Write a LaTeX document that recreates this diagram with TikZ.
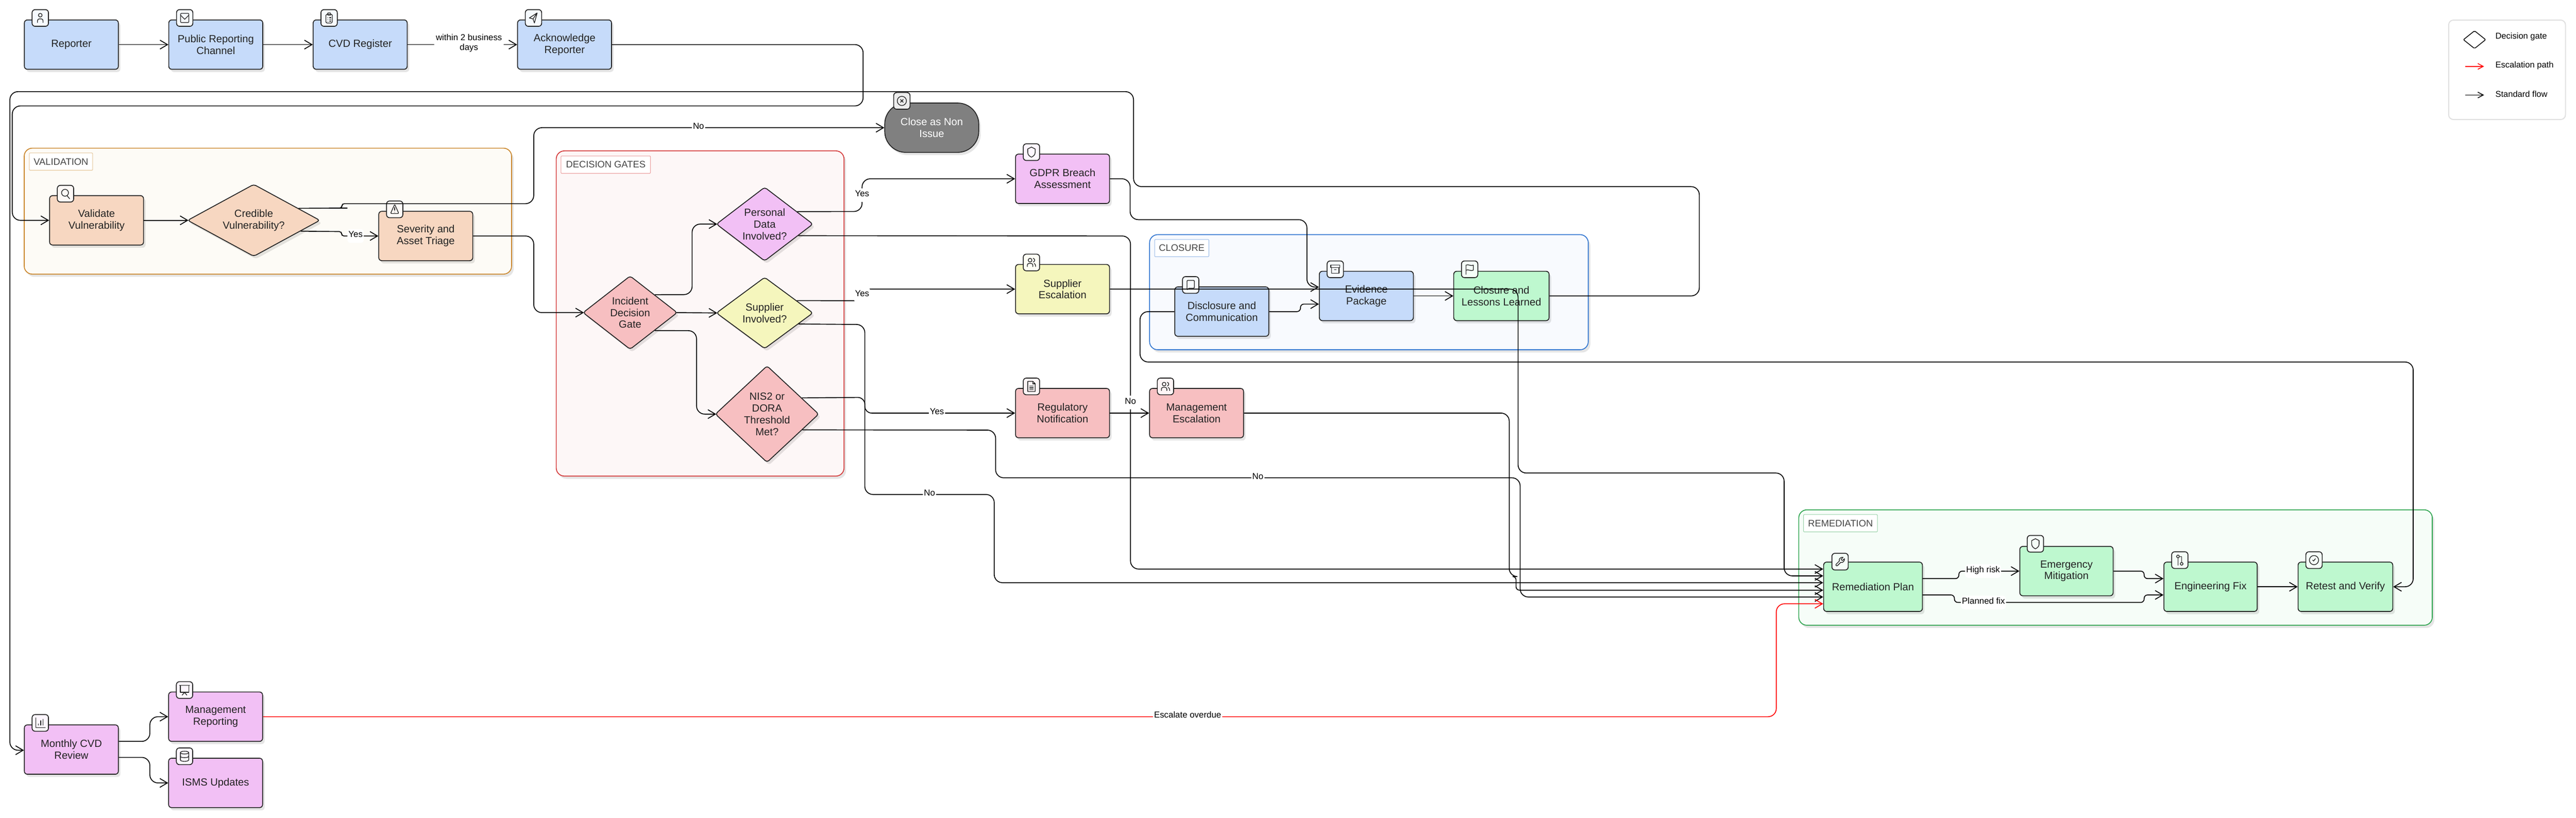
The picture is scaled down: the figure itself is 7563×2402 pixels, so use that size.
\documentclass[tikz,border=0pt]{standalone}
\usepackage{fontspec}
\usepackage{xcolor}
\usepackage{tikz}
\setmainfont{Liberation Sans}
\usetikzlibrary{shapes,arrows.meta,positioning,shadows}
\definecolor{bluefill}{RGB}{198,219,250}
\definecolor{peachfill}{RGB}{247,215,193}
\definecolor{rosefill}{RGB}{247,191,193}
\definecolor{pinkfill}{RGB}{242,192,245}
\definecolor{yellowfill}{RGB}{245,246,189}
\definecolor{greenfill}{RGB}{190,248,207}
\definecolor{closefill}{RGB}{128,128,128}
\definecolor{inkdark}{RGB}{34,34,34}
\definecolor{labelgray}{RGB}{68,68,68}
\definecolor{legendgray}{RGB}{224,224,224}
\definecolor{escalred}{RGB}{255,0,0}
\definecolor{validedge}{RGB}{202,134,43}
\definecolor{validback}{RGB}{253,251,246}
\definecolor{gateedge}{RGB}{212,58,58}
\definecolor{gateback}{RGB}{253,247,247}
\definecolor{closeedge}{RGB}{47,116,208}
\definecolor{closeback}{RGB}{248,250,254}
\definecolor{remedge}{RGB}{45,164,78}
\definecolor{remback}{RGB}{246,253,248}
\tikzset{
        softshadow/.style={
            drop shadow={shadow xshift=6pt, shadow yshift=-8pt, fill=black, opacity=.1}
        },
        block/.style={
            rectangle, draw=inkdark, line width=2.5pt,
            rounded corners=9pt, minimum width=276pt, minimum height=145pt,
            inner sep=0pt, align=center, text=inkdark, softshadow,
            font=\fontsize{30.5}{34.5}\selectfont
        },
        gate/.style={
            diamond, draw=inkdark, line width=2.5pt, aspect=1.3,
            rounded corners=7pt, inner sep=0pt, align=center, text=inkdark, softshadow,
            font=\fontsize{30.5}{34.5}\selectfont
        },
        zone/.style={
            rectangle, line width=2.5pt, rounded corners=24pt, softshadow
        },
        zonelabel/.style={
            rectangle, fill=white, line width=1.5pt, rounded corners=2pt,
            minimum height=51pt, inner sep=0pt, text=labelgray,
            font=\fontsize{27.7}{32}\selectfont
        },
        badge/.style={
            rectangle, draw=inkdark, line width=2.5pt, rounded corners=9pt,
            minimum width=48pt, minimum height=49pt, inner sep=0pt, fill=#1!15!white
        },
        flow/.style={
            ->, line width=2.5pt, rounded corners=24pt
        },
        escalate/.style={
            flow, draw=escalred, color=escalred
        },
        edgelabel/.style={
            fill=white, text=black, inner xsep=3pt, inner ysep=0pt,
            text height=24pt, text depth=16pt,
            font=\fontsize{25.5}{29}\selectfont
        },
        edgenote/.style={
            fill=white, text=black, inner xsep=5pt, inner ysep=2pt, align=center,
            yshift=5pt, font=\fontsize{25.5}{29}\selectfont
        },
        legendtext/.style={
            anchor=west, inner sep=0pt, text=black,
            font=\fontsize{25}{29}\selectfont
        },
        iconline/.style={
            draw=inkdark, line width=2pt, line cap=round, line join=round
        },
        iconperson/.pic={
            \path[iconline] (0,-6) circle (4);
            \path[iconline, rounded corners=5pt] (-6,10) -- (-6,2) -- (6,2) -- (6,10);
        },
        iconmail/.pic={
            \path[iconline, rounded corners=2pt] (-9,-10) rectangle (9,10);
            \path[iconline] (-9,-6) -- (0,3) -- (9,-6);
        },
        iconclipboard/.pic={
            \path[iconline, rounded corners=3pt] (-7,-8) rectangle (7,11);
            \path[iconline, rounded corners=1pt] (-3,-11) rectangle (3,-6);
            \path[iconline] (-3,-1) -- (-3,-1) (1,-1) -- (4,-1) (-3,3) -- (-3,3) (1,3) -- (4,3) (-3,7) -- (-3,7) (1,7) -- (4,7);
        },
        iconsend/.pic={
            \path[iconline] (8,-11) -- (-9,0) -- (-1,2) -- (2,11) -- cycle (8,-11) -- (-1,2);
        },
        iconsearch/.pic={
            \path[iconline] (-1,-2) circle (7.5);
            \path[iconline] (4,5) -- (9,11);
        },
        iconalert/.pic={
            \path[iconline, rounded corners=3pt] (0,-11) -- (9,9) -- (-9,9) -- cycle;
            \path[iconline] (0,-4) -- (0,2) (0,6) -- (0,6);
        },
        iconcross/.pic={
            \path[iconline] (0,0) circle (10);
            \path[iconline] (-3,-3) -- (3,3) (-3,3) -- (3,-3);
        },
        iconshield/.pic={
            \path[iconline] (0,-11) -- (8,-7) -- (8,1) .. controls (8,6) and (4,9) .. (0,11)
                .. controls (-4,9) and (-8,6) .. (-8,1) -- (-8,-7) -- cycle;
        },
        iconusers/.pic={
            \path[iconline] (-3,-5) circle (4);
            \path[iconline, rounded corners=5pt] (-9,9) -- (-9,2) -- (3,2) -- (3,9);
            \path[iconline] (4,-9) .. controls (8,-8) and (8,-2) .. (4,-1);
            \path[iconline] (6,2) .. controls (9,3) and (9,6) .. (9,9);
        },
        iconfile/.pic={
            \path[iconline] (-8,-11) -- (3,-11) -- (8,-6) -- (8,11) -- (-8,11) -- cycle;
            \path[iconline] (3,-11) -- (3,-6) -- (8,-6);
            \path[iconline] (-4,-1) -- (4,-1) (-4,3) -- (4,3) (-4,7) -- (4,7);
        },
        iconmessage/.pic={
            \path[iconline, rounded corners=2pt] (-8,-10) -- (8,-10) -- (8,7) -- (-4,7) -- (-8,11) -- cycle;
        },
        iconarchive/.pic={
            \path[iconline] (-10,-9) rectangle (10,-4);
            \path[iconline] (-8,-4) -- (-8,9) -- (8,9) -- (8,-4);
            \path[iconline] (-2,1) -- (2,1);
        },
        iconflag/.pic={
            \path[iconline] (-8,11) -- (-8,-9);
            \path[iconline] (-8,-9) .. controls (-3,-12) and (2,-6) .. (8,-9) -- (8,2)
                .. controls (2,5) and (-3,-1) .. (-8,2);
        },
        iconwrench/.pic={
            \path[iconline] (2.7,-5.7) -- (2.7,-4.3) -- (4.3,-2.7) -- (5.7,-2.7) -- (9.5,-6.5)
                .. controls (10.5,-2) and (6,3.5) .. (1.5,1.5) -- (-5.4,8.4)
                .. controls (-7.5,10.5) and (-10.5,7.5) .. (-8.4,5.4) -- (-1.5,-1.5)
                .. controls (-3.5,-6) and (2,-10.5) .. (6.5,-9.5) -- cycle;
        },
        iconbranch/.pic={
            \path[iconline] (-4,-8) circle (3) (4,8) circle (3);
            \path[iconline] (-4,-5) -- (-4,11);
            \path[iconline] (0,-8) -- (4,-8) -- (4,5);
        },
        iconcheck/.pic={
            \path[iconline] (0,0) circle (10);
            \path[iconline] (-3,0) -- (-1,2) -- (3,-3);
        },
        iconchart/.pic={
            \path[iconline] (-10,-11) -- (-10,10) -- (11,10);
            \path[iconline] (-4,5) -- (-4,2) (1,5) -- (1,-5) (6,5) -- (6,-8);
        },
        iconscreen/.pic={
            \path[iconline] (-11,-10) -- (11,-10);
            \path[iconline] (-9,-10) -- (-9,5) -- (9,5) -- (9,-10);
            \path[iconline] (-5,11) -- (0,5) -- (5,11);
        },
        icondatabase/.pic={
            \path[iconline] (0,-8) ellipse (9 and 3);
            \path[iconline] (-9,-8) -- (-9,8) .. controls (-9,12) and (9,12) .. (9,8) -- (9,-8);
            \path[iconline] (-9,0) .. controls (-9,4) and (9,4) .. (9,0);
        }
    }
\newcommand{\iconbadge}[4][(48,-4.5)]{
    \node[badge=#4] (#2badge) at ([shift={#1}]#2.north west) {};
    \pic[scale=1.35] at (#2badge) {#3};
}

\begin{document}
\begin{tikzpicture}[
    x = 1pt, y = -1pt,
    node distance = 424pt,
    > = {Straight Barb[length=22pt,width=26pt]},
  ]
    \useasboundingbox (0,0) rectangle (7563,2402);

    \node[zone, draw=validedge, fill=validback, minimum width=1431pt, minimum height=370pt] (validzone) at (786.5,620) {};
    \node[zone, draw=gateedge, fill=gateback, minimum width=845pt, minimum height=955pt] (gatezone) at (2055.5,920.5) {};
    \node[zone, draw=closeedge, fill=closeback, minimum width=1288pt, minimum height=338pt] (closezone) at (4019,858) {};
    \node[zone, draw=remedge, fill=remback, minimum width=1860pt, minimum height=339pt] (remzone) at (6211,1666.5) {};

    \node[zonelabel, draw=validedge!50, minimum width=186pt] (validlabel) at (179,474.5) {VALIDATION};
    \node[zonelabel, draw=gateedge!50, minimum width=263pt] (gatelabel) at (1778.5,483.5) {DECISION GATES};
    \node[zonelabel, draw=closeedge!50, minimum width=159pt] (closelabel) at (3469.5,728.5) {CLOSURE};
    \node[zonelabel, draw=remedge!50, minimum width=217pt] (remlabel) at (5403.5,1536.5) {REMEDIATION};

    \node[block, fill=bluefill] (reporter) at (209.5,131) {Reporter};
    \node[block, fill=bluefill, right of=reporter] (public) {Public Reporting\\Channel};
    \node[block, fill=bluefill, right of=public] (cvd) {CVD Register};
    \node[block, fill=bluefill, right of=cvd, xshift=176pt] (ack) {Acknowledge\\Reporter};

    \node[block, fill=peachfill] (validate) at (283.5,647) {Validate\\Vulnerability};
    \node[gate, fill=peachfill, aspect=2, minimum width=389pt, minimum height=212pt] (credible) at (745,647) {Credible\\Vulnerability?};
    \node[block, fill=peachfill] (triage) at (1250,693) {Severity and\\Asset Triage};

    \node[gate, fill=rosefill, aspect=1.2, minimum width=277pt, minimum height=216pt] (incident) at (1850,918) {Incident\\Decision\\Gate};
    \node[gate, fill=pinkfill, minimum width=284pt, minimum height=217pt] (personal) at (2245,658) {Personal\\Data\\Involved?};
    \node[gate, fill=yellowfill, aspect=1.5, minimum width=284pt, minimum height=210pt] (supplier) at (2245,919) {Supplier\\Involved?};
    \node[gate, fill=rosefill, aspect=1.06, minimum width=304pt, minimum height=284pt] (nistwo) at (2252,1216) {NIS2 or\\DORA\\Threshold\\Met?};

    \node[block, fill=closefill, text=white, rounded corners=62pt] (closeissue) at (2735.5,375) {Close as Non\\Issue};
    \node[block, fill=pinkfill] (gdpr) at (3119.5,525) {GDPR Breach\\Assessment};
    \node[block, fill=yellowfill] (supesc) at (3119.5,849) {Supplier\\Escalation};
    \node[block, fill=rosefill] (regnotify) at (3119.5,1213) {Regulatory\\Notification};
    \node[block, fill=rosefill] (mgmtesc) at (3513,1213) {Management\\Escalation};

    \node[block, fill=bluefill] (disclosure) at (3587,915) {Disclosure and\\Communication};
    \node[block, fill=bluefill] (evidence) at (4011.5,869) {Evidence\\Package};
    \node[block, fill=greenfill, minimum width=280pt] (lessons) at (4408,869) {Closure and\\Lessons Learned};

    \node[block, fill=greenfill, minimum width=290pt] (remplan) at (5499,1723) {Remediation Plan};
    \node[block, fill=greenfill, minimum width=274pt] (emergency) at (6067,1677) {Emergency\\Mitigation};
    \node[block, fill=greenfill, minimum width=274pt] (engfix) at (6490,1723) {Engineering Fix};
    \node[block, fill=greenfill, minimum width=278pt] (retest) at (6886,1723) {Retest and Verify};

    \node[block, fill=pinkfill] (monthly) at (209.5,2201) {Monthly CVD\\Review};
    \node[block, fill=pinkfill] (mgmtreport) at (633,2104.5) {Management\\Reporting};
    \node[block, fill=pinkfill] (isms) at (633,2299) {ISMS Updates};

    \iconbadge{reporter}{iconperson}{bluefill}
    \iconbadge{public}{iconmail}{bluefill}
    \iconbadge{cvd}{iconclipboard}{bluefill}
    \iconbadge{ack}{iconsend}{bluefill}
    \iconbadge{validate}{iconsearch}{peachfill}
    \iconbadge{triage}{iconalert}{peachfill}
    \iconbadge[(51.5,-5)]{closeissue}{iconcross}{closefill}
    \iconbadge{gdpr}{iconshield}{pinkfill}
    \iconbadge{supesc}{iconusers}{yellowfill}
    \iconbadge{regnotify}{iconfile}{rosefill}
    \iconbadge{mgmtesc}{iconusers}{rosefill}
    \iconbadge{disclosure}{iconmessage}{bluefill}
    \iconbadge{evidence}{iconarchive}{bluefill}
    \iconbadge{lessons}{iconflag}{greenfill}
    \iconbadge[(49.5,0)]{remplan}{iconwrench}{greenfill}
    \iconbadge[(47,-6.5)]{emergency}{iconshield}{greenfill}
    \iconbadge{engfix}{iconbranch}{greenfill}
    \iconbadge{retest}{iconcheck}{greenfill}
    \iconbadge{monthly}{iconchart}{pinkfill}
    \iconbadge{mgmtreport}{iconscreen}{pinkfill}
    \iconbadge{isms}{icondatabase}{pinkfill}

    \path[flow]
    (reporter) edge (public)
    (public) edge (cvd)
    (cvd) edge node[edgenote, pos=.56] {within 2 business\\days} (ack)
    (evidence) edge (lessons)
    (regnotify) edge (mgmtesc)
    (engfix) edge (retest);

    \draw[flow] (validate.east) -- ([xshift=4pt]credible.west);
    \draw[flow] ([xshift=-4pt]incident.east) -- ([xshift=4pt]supplier.west);
    \draw[flow] (ack.east) -- (2534,131) -- (2534,311) -- (36,311) -- (36,647) -- (validate.west);
    \draw[flow] (credible.15.5) -- (996,611) [rounded corners=7pt] -- (1004,611) -- (1004,598) [rounded corners=24pt] -- (1567,598) -- (1567,375)
        -- node[edgelabel, pos=.47] {No} (closeissue.west);
    \draw[flow, rounded corners=7pt] (credible.-13) -- (1003,680) -- (1003,693) -- node[edgelabel, pos=.38] {Yes} (triage.west);
    \draw[flow] (triage.east) -- (1567,693) -- (1567,918) -- ([xshift=4pt]incident.west);
    \draw[flow] (incident.36.4) -- (2032,865) -- (2032,658) -- ([xshift=4pt]personal.west);
    \draw[flow] (incident.-36.4) -- (2045,971) -- (2045,1216) -- ([xshift=4pt]nistwo.west);

    \draw[flow] (personal.21.5) -- (2531,621) -- node[edgelabel] {Yes} (2531,525) -- (gdpr.west);
    \draw[flow] (personal.-19.8) -- (3319,693) -- node[edgelabel] {No} (3319,1671) -- ([yshift=52pt]remplan.west);
    \draw[flow, rounded corners=6pt] (supplier.21) -- (2531,883) -- node[edgelabel, minimum width=46pt] {Yes} (2531,849) -- (supesc.west);
    \draw[flow] (supplier.-18.8) -- (2539,953) -- (2539,1452) -- node[edgelabel] {No} (2919,1452) -- (2919,1711) -- ([yshift=12pt]remplan.west);
    \draw[flow, rounded corners=20pt] (nistwo.25.7) -- (2539,1167) -- (2539,1213) -- node[edgelabel, pos=.48] {Yes} (regnotify.west);
    \draw[flow] (nistwo.-24.7) -- (2923,1263) -- (2923,1403) -- node[edgelabel] {No} (4463,1403) -- (4463,1753) -- ([yshift=-30pt]remplan.west);

    \draw[flow] (gdpr.east) -- (3318,525) -- (3318,645) -- (3837,645) -- (3837,843) -- ([yshift=26pt]evidence.west);
    \draw[flow] (supesc.east) -- (4457,849) -- (4457,1389) -- (5238,1389) -- (5238,1691) -- ([yshift=32pt]remplan.west);
    \draw[flow] (mgmtesc.east) -- (4431,1213) -- (4431,1693) [rounded corners=10pt] -- (4451,1693) -- (4451,1733) -- ([yshift=-10pt]remplan.west);
    \draw[flow] (disclosure.west) -- (3347,915) -- (3347,1063) -- (7085,1063) -- (7085,1723) -- (retest.east);
    \draw[flow, rounded corners=10pt] (disclosure.east) -- (3818,915) -- (3818,893) -- ([yshift=-24pt]evidence.west);
    \draw[flow] (lessons.east) -- (4989,869) -- (4989,548) -- (3328,548) -- (3328,269) -- (29,269) -- (29,2203) -- ([yshift=-2pt]monthly.west);

    \draw[flow, rounded corners=10pt] ([yshift=24pt]remplan.east) -- (5751,1699) -- (5751,1677) -- node[edgelabel, pos=.4] {High risk} (emergency.west);
    \draw[flow, rounded corners=10pt] ([yshift=-24pt]remplan.east) -- (5738,1747) -- (5738,1769) -- node[edgelabel, pos=.153] {Planned fix} (6295,1769) -- (6295,1747) -- ([yshift=-24pt]engfix.west);
    \draw[flow, rounded corners=10pt] (emergency.east) -- (6295,1677) -- (6295,1699) -- ([yshift=24pt]engfix.west);

    \draw[flow] ([yshift=24pt]monthly.east) -- (440,2177) -- (440,2104.5) -- (mgmtreport.west);
    \draw[flow] ([yshift=-23pt]monthly.east) -- (440,2224) -- (440,2299) -- (isms.west);
    \draw[escalate] (mgmtreport.east) -- node[edgelabel, pos=.611] {Escalate overdue} (5215,2104.5) -- (5215,1773) -- ([yshift=-50pt]remplan.west);

    \node[rectangle, draw=legendgray, fill=white, line width=3pt, rounded corners=14pt, minimum width=343pt, minimum height=292pt] (legend) at (7360.5,205) {};
    \node[diamond, draw=black, line width=2.2pt, rounded corners=3pt, minimum width=66pt, minimum height=53pt, inner sep=0pt] (legendgate) at (7265,116.5) {};
    \node[legendtext] (gatetext) at (7326,107) {Decision gate};
    \node[legendtext] (redtext) at (7326,192) {Escalation path};
    \node[legendtext] (flowtext) at (7326,276) {Standard flow};
    \coordinate (redstart) at (7237,195);
    \coordinate (redend) at (7293,195);
    \coordinate (flowstart) at (7237,279);
    \coordinate (flowend) at (7293,279);
    \draw[-{Straight Barb[length=16pt,width=17pt]}, line width=2.2pt, escalred] (redstart) -- (redend);
    \draw[-{Straight Barb[length=16pt,width=17pt]}, line width=2.2pt] (flowstart) -- (flowend);

\end{tikzpicture}
\end{document}
